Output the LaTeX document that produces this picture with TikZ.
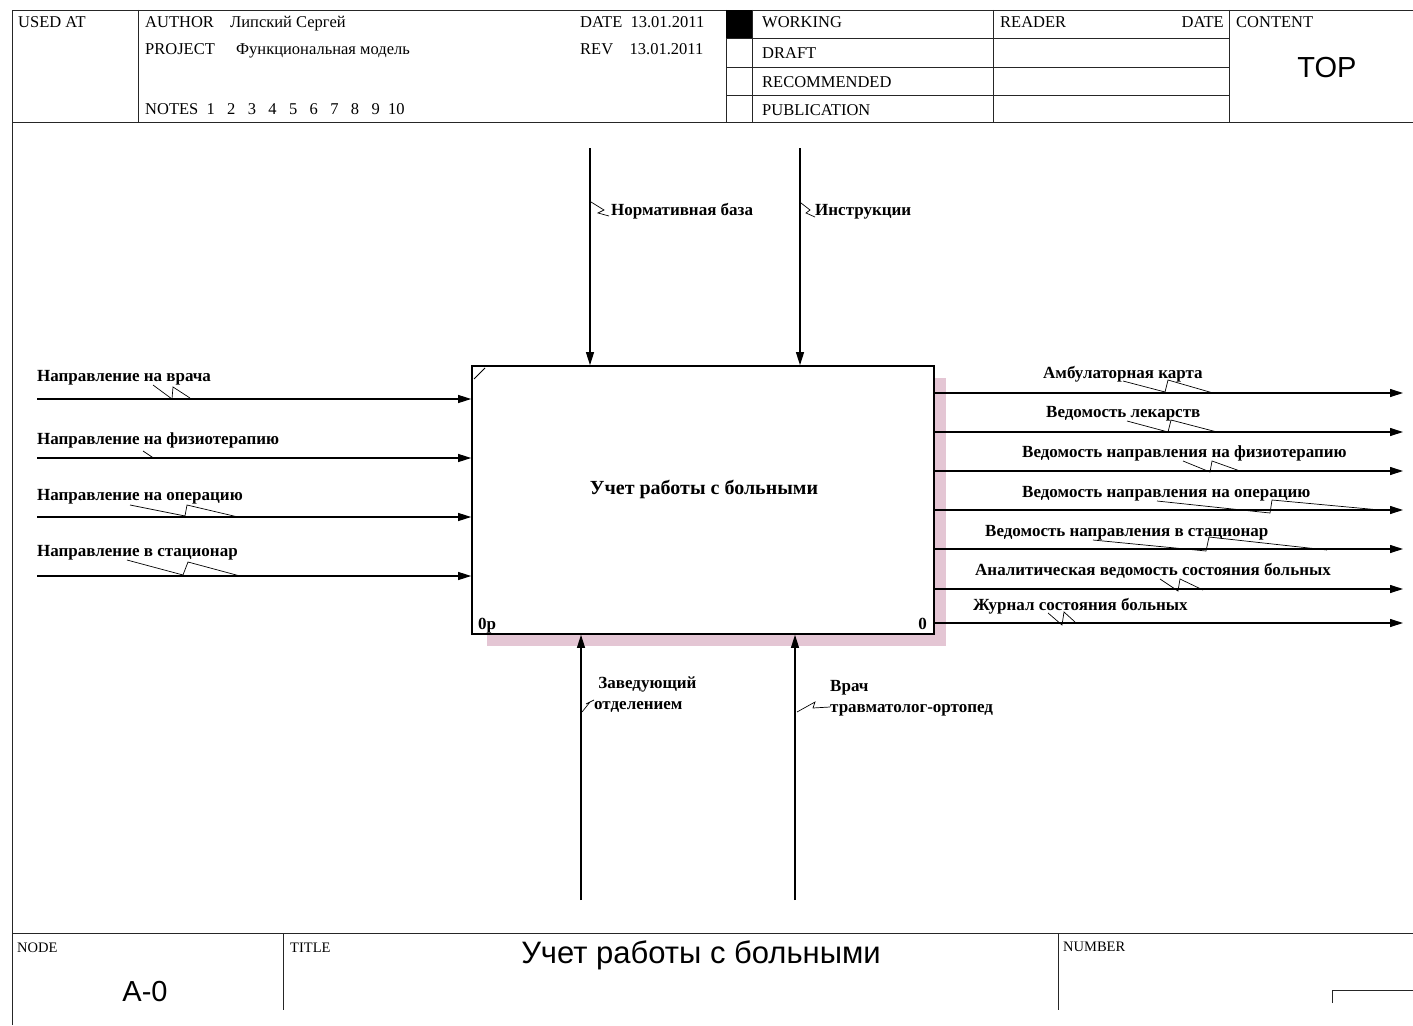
\documentclass[tikz,border=0pt]{standalone}
\usepackage{fontspec}
\setmainfont{Liberation Serif}
\newfontfamily\arialf{Liberation Sans}
\usetikzlibrary{arrows.meta,calc}

\definecolor{shadowpink}{RGB}{228,198,212}

\tikzset{
  frame/.style={line width=0.9pt, black!85},
  flow/.style={line width=1.1pt, -{Triangle[length=13pt,width=8pt]}},
  squig/.style={line width=0.7pt},
  hdr/.style={font=\fontsize{16.5}{18}\selectfont, anchor=base west, inner sep=0pt},
  tiny/.style={font=\fontsize{14.5}{16}\selectfont, anchor=base west, inner sep=0pt},
  lbl/.style={font=\bfseries\fontsize{17}{21}\selectfont, anchor=base west, inner sep=0pt},
}

\begin{document}
\begin{tikzpicture}[x=1pt,y=-1pt]
\useasboundingbox (0,0) rectangle (1413,1025);

% Frame and header grid
\draw[frame] (12,1025) -- (12,10) -- (1413,10);
\draw[frame] (12,122) -- (1413,122);
\draw[frame] (138,10) -- (138,122);
\foreach \x in {726,752,993,1229} \draw[frame] (\x,10) -- (\x,122);
\foreach \y in {38,67,95} \draw[frame] (726,\y) -- (1229,\y);
\fill (726,10) rectangle (752,38);

% Header texts
\node[hdr] (usedat) at (18,28) {USED AT};
\node[hdr] (author) at (145,28) {AUTHOR};
\node[hdr] (authname) at (230,28) {Липский Сергей};
\node[hdr] (project) at (145,55) {PROJECT};
\node[hdr] (projname) at (236,55) {Функциональная модель};
\node[hdr] (date) at (580,28) {DATE\ \ 13.01.2011};
\node[hdr] (rev) at (580,55) {REV\ \ \ \ 13.01.2011};
\node[hdr] (notes) at (145,114) {NOTES\ \ 1\ \ \ 2\ \ \ 3\ \ \ 4\ \ \ 5\ \ \ 6\ \ \ 7\ \ \ 8\ \ \ 9\ \ 10};
\node[hdr] (working) at (762,28) {WORKING};
\node[hdr] (draft) at (762,59) {DRAFT};
\node[hdr] (recomm) at (762,87) {RECOMMENDED};
\node[hdr] (public) at (762,115) {PUBLICATION};
\node[hdr] (reader) at (1000,28) {READER};
\node[hdr, anchor=base east] (rdate) at (1224,28) {DATE};
\node[hdr] (content) at (1236,28) {CONTENT};
\node[font=\arialf\fontsize{29}{31}\selectfont] (top) at (1327,68) {TOP};

% Function box
\fill[shadowpink] (487,378) rectangle (946,646);
\node[draw, line width=1.7pt, fill=white, minimum width=462pt, minimum height=268pt, inner sep=0pt] (func) at (703,500) {};
\draw[line width=0.8pt] (474,379) -- (485,368);
\node[lbl, anchor=center, font=\bfseries\fontsize{20}{22}\selectfont] (functxt) at (704,489) {Учет работы с больными};
\node[lbl] (fnum) at (478,629) {0р};
\node[lbl, anchor=base east] (fzero) at (927,629) {0};

% Inputs
\foreach \y/\b/\t [count=\i] in {399/381/{Направление на врача},
    458/444/{Направление на физиотерапию},
    517/500/{Направление на операцию},
    576/556/{Направление в стационар}} {
  \coordinate (in\i) at (37,\y);
  \draw[flow] (in\i) -- (in\i -| func.west);
  \node[lbl] (inlbl\i) at (37,\b) {\t};
}

% Outputs
\foreach \y/\x/\b/\t [count=\i] in {393/1043/378/{Амбулаторная карта},
    432/1046/417/{Ведомость лекарств},
    471/1022/457/{Ведомость направления на физиотерапию},
    510/1022/497/{Ведомость направления на операцию},
    549/985/536/{Ведомость направления в стационар},
    589/975/575/{Аналитическая ведомость состояния больных},
    623/973/610/{Журнал состояния больных}} {
  \coordinate (out\i) at (1403,\y);
  \draw[flow] (func.east |- out\i) -- (out\i);
  \node[lbl] (outlbl\i) at (\x,\b) {\t};
}

% Controls
\coordinate (ctl1) at (590,148);
\coordinate (ctl2) at (800,148);
\draw[flow] (ctl1) -- (ctl1 |- func.north);
\draw[flow] (ctl2) -- (ctl2 |- func.north);
\node[lbl] (ctllbl1) at (611,215) {Нормативная база};
\node[lbl] (ctllbl2) at (815,215) {Инструкции};

% Mechanisms
\coordinate (mech1) at (581,900);
\coordinate (mech2) at (795,900);
\draw[flow] (mech1) -- (mech1 |- func.south);
\draw[flow] (mech2) -- (mech2 |- func.south);
\node[lbl, align=left] (mechlbl1) at (594,709) {\ Заведующий\\отделением};
\node[lbl, align=left] (mechlbl2) at (830,712) {Врач\\травматолог-ортопед};

% Squiggles
\draw[squig] (153,385) -- (172,399) -- (173,387) -- (190,398);
\draw[squig] (143,451) -- (152,457) -- (148,458) -- (160,458);
\draw[squig] (130,505) -- (185,516) -- (187,505) -- (238,517);
\draw[squig] (127,560) -- (183,575) -- (188,562) -- (240,576);
\draw[squig] (1123,381) -- (1165,392) -- (1168,380) -- (1213,393);
\draw[squig] (1127,421) -- (1168,432) -- (1171,420) -- (1217,432);
\draw[squig] (1183,461) -- (1210,472) -- (1212,461) -- (1240,471);
\draw[squig] (1157,501) -- (1270,513) -- (1272,500) -- (1380,510);
\draw[squig] (1093,540) -- (1206,551) -- (1209,537) -- (1327,550);
\draw[squig] (1160,579) -- (1178,591) -- (1180,579) -- (1203,590);
\draw[squig] (1048,613) -- (1062,625) -- (1064,612) -- (1075,622);
\draw[squig] (591,202) -- (604,210) -- (598,213) -- (609,216);
\draw[squig] (801,203) -- (810,210) -- (806,213) -- (815,217);
\draw[squig] (582,712) -- (590,702) -- (586,704) -- (594,700);
\draw[squig] (797,712) -- (815,702) -- (813,708) -- (830,707);

% Footer
\draw[frame] (12,933) -- (1413,933);
\draw[frame] (283,933) -- (283,1010);
\draw[frame] (1058,933) -- (1058,1010);
\draw[frame] (1332,1003) -- (1332,990) -- (1413,990);
\node[tiny] (nodehd) at (17,952) {NODE};
\node[tiny] (titlehd) at (290,952) {TITLE};
\node[tiny] (numhd) at (1063,951) {NUMBER};
\node[font=\arialf\fontsize{29}{31}\selectfont] (nodeval) at (145,992) {A-0};
\node[font=\arialf\fontsize{31}{33}\selectfont] (titleval) at (701,955) {Учет работы с больными};
\end{tikzpicture}
\end{document}
